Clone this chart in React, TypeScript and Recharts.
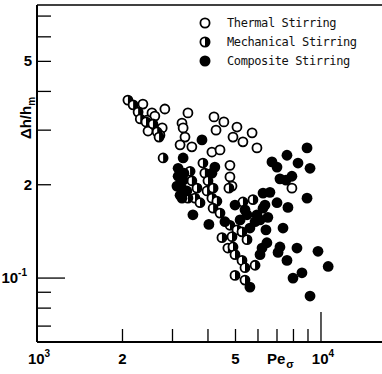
import React from 'react'
import { ScatterChart, Scatter, XAxis, YAxis, ReferenceLine, Legend, Label } from 'recharts'

// Pe_sigma (x) and Δh/h_m (y)
const thermalPe = [2360, 2540, 2600, 2820, 2460, 2760, 2710, 2440, 3400, 3240, 3270, 3320, 3190, 3510, 4200, 4550, 4270, 5060, 4900, 5310, 5720, 5950, 4130, 4410, 4780, 4780, 4860, 7900]
const thermalDh = [0.364, 0.341, 0.333, 0.351, 0.298, 0.305, 0.289, 0.323, 0.341, 0.316, 0.305, 0.285, 0.269, 0.265, 0.331, 0.319, 0.3, 0.307, 0.285, 0.275, 0.294, 0.263, 0.255, 0.259, 0.231, 0.212, 0.198, 0.195]

const mechanicalPe = [2090, 2180, 2270, 2310, 2420, 2560, 2650, 2690, 2780, 3460, 3510, 3660, 3840, 3900, 4000, 3970, 4170, 4130, 4300, 3600, 3750, 4170, 4410, 4740, 5310, 5760, 4780, 5060, 4860, 5270, 4480, 4700, 4900, 5490, 4980, 5270, 5860, 5400, 4980, 5400, 3400]
const mechanicalDh = [0.375, 0.362, 0.343, 0.326, 0.319, 0.314, 0.296, 0.285, 0.244, 0.221, 0.206, 0.195, 0.235, 0.218, 0.206, 0.191, 0.195, 0.181, 0.177, 0.181, 0.175, 0.168, 0.162, 0.195, 0.176, 0.179, 0.148, 0.143, 0.136, 0.141, 0.135, 0.125, 0.126, 0.133, 0.119, 0.114, 0.11, 0.108, 0.102, 0.0985, 0.181]

const compositePe = [3810, 3270, 3140, 3140, 3290, 3110, 3240, 3190, 3370, 4130, 4230, 3540, 4030, 3240, 4980, 6250, 5950, 5490, 5190, 5620, 6100, 6500, 6400, 7350, 7000, 7650, 8930, 6720, 7000, 7590, 8300, 8930, 9150, 7170, 7530, 7900, 6250, 6610, 6350, 6200, 6100, 6450, 7170, 7060, 7590, 8230, 9760, 10600, 8570, 7970, 9150, 5620, 4590, 5860, 5400, 3270]
const compositeDh = [0.279, 0.244, 0.226, 0.213, 0.218, 0.198, 0.194, 0.185, 0.191, 0.218, 0.228, 0.16, 0.149, 0.181, 0.172, 0.168, 0.16, 0.16, 0.154, 0.145, 0.154, 0.157, 0.143, 0.145, 0.175, 0.169, 0.181, 0.237, 0.228, 0.249, 0.235, 0.263, 0.226, 0.209, 0.207, 0.213, 0.188, 0.189, 0.172, 0.125, 0.119, 0.13, 0.126, 0.121, 0.114, 0.125, 0.122, 0.109, 0.104, 0.1, 0.0875, 0.0935, 0.152, 0.152, 0.166, 0.207]

const X_DOMAIN = [1000, 16400]
const Y_DOMAIN = [0.0622, 0.76]
const X_TICKS = [1000, 2000, 3000, 4000, 5000, 6000, 7000, 8000, 9000, 10000]
const Y_TICKS = [0.07, 0.08, 0.09, 0.1, 0.2, 0.3, 0.4, 0.5, 0.6, 0.7]
const X_MAJOR = [10000]
const Y_MAJOR = [0.1]
const X_TICK_LABELS: Record<number, string[]> = { 1000: ['10', '3'], 2000: ['2'], 5000: ['5'], 10000: ['10', '4'] }
const Y_TICK_LABELS: Record<number, string[]> = { 0.1: ['10', '-1'], 0.2: ['2'], 0.5: ['5'] }

const SERIES = [
  { name: 'Thermal Stirring', kind: 'open', pe: thermalPe, dh: thermalDh },
  { name: 'Mechanical Stirring', kind: 'half', pe: mechanicalPe, dh: mechanicalDh },
  { name: 'Composite Stirring', kind: 'full', pe: compositePe, dh: compositeDh },
]

const INK = '#000'
const R = 4.5
const tickFont = { fontFamily: "'Liberation Sans', Arial, sans-serif", fontWeight: 700, fontSize: 15, fill: INK }

function Dot({ cx, cy, kind, r = R }: { cx: number; cy: number; kind: string; r?: number }) {
  if (kind === 'full') return <circle cx={cx} cy={cy} r={r + 0.9} fill={INK} />
  return (
    <g>
      <circle cx={cx} cy={cy} r={r} fill="#fff" stroke={INK} strokeWidth={1.8} />
      {kind === 'half' && <path d={`M${cx},${cy - r} A${r},${r} 0 0 1 ${cx},${cy + r} Z`} fill={INK} />}
    </g>
  )
}

function XTick({ x, y, payload }: any) {
  const v = payload.value
  const len = X_MAJOR.includes(v) ? 30 : 13
  const lab = X_TICK_LABELS[v]
  return (
    <g>
      {v !== X_DOMAIN[0] && <line x1={x} x2={x} y1={y} y2={y - len} stroke={INK} strokeWidth={1.3} />}
      {lab && (
        <text x={x + (lab[1] ? 2 : 0)} y={y + 22} textAnchor="middle" {...tickFont}>
          {lab[0]}
          {lab[1] && <tspan dy={-7} fontSize={10}>{lab[1]}</tspan>}
        </text>
      )}
    </g>
  )
}

function YTick({ x, y, payload }: any) {
  const v = payload.value
  const len = Y_MAJOR.includes(v) ? 28 : 14
  const lab = Y_TICK_LABELS[v]
  return (
    <g>
      <line x1={x} x2={x + len} y1={y} y2={y} stroke={INK} strokeWidth={1.3} />
      {lab && (
        <text x={x - (lab[1] ? 10 : 5)} y={y + 5} textAnchor="end" {...tickFont}>
          {lab[0]}
          {lab[1] && <tspan dy={-7} fontSize={10}>{lab[1]}</tspan>}
        </text>
      )}
    </g>
  )
}

function LegendBox() {
  return (
    <div style={{ fontFamily: "'DejaVu Sans Mono', monospace", fontSize: 12, letterSpacing: -0.4, color: '#111' }}>
      {SERIES.map((s) => (
        <div key={s.name} style={{ display: 'flex', alignItems: 'center', height: 19 }}>
          <svg width={12} height={12} style={{ overflow: 'visible' }}>
            <Dot cx={6} cy={6} kind={s.kind} r={4.6} />
          </svg>
          <span style={{ marginLeft: 16, whiteSpace: 'nowrap' }}>{s.name}</span>
        </div>
      ))}
    </div>
  )
}

export default function App() {
  return (
    <div style={{ position: 'absolute', left: 0, top: 0, width: 382, height: 374, background: '#fff' }}>
      <ScatterChart width={382} height={374} margin={{ top: 5, right: 0, left: 0, bottom: 0 }}>
        <XAxis
          type="number"
          dataKey="x"
          scale="log"
          domain={X_DOMAIN}
          allowDataOverflow
          ticks={X_TICKS}
          interval={0}
          height={32}
          tickSize={0}
          tickMargin={0}
          tickLine={false}
          axisLine={{ stroke: INK, strokeWidth: 2 }}
          tick={<XTick />}
        >
          <Label
            content={() => (
              <text x={267} y={364} {...tickFont}>
                Pe
                <tspan dx={1} dy={4} fontSize={11}>σ</tspan>
              </text>
            )}
          />
        </XAxis>
        <YAxis
          type="number"
          dataKey="y"
          scale="log"
          domain={Y_DOMAIN}
          allowDataOverflow
          ticks={Y_TICKS}
          interval={0}
          width={37}
          tickSize={0}
          tickMargin={0}
          tickLine={false}
          axisLine={{ stroke: INK, strokeWidth: 2 }}
          tick={<YTick />}
        >
          <Label
            content={() => (
              <text transform="rotate(-90)" x={-118} y={31} textAnchor="middle" {...tickFont}>
                Δh/h
                <tspan dy={4} fontSize={10}>m</tspan>
              </text>
            )}
          />
        </YAxis>
        <ReferenceLine y={Y_DOMAIN[1]} stroke={INK} strokeWidth={1.5} />
        {SERIES.map((s) => (
          <Scatter
            key={s.name}
            name={s.name}
            data={s.pe.map((x, i) => ({ x, y: s.dh[i] }))}
            isAnimationActive={false}
            shape={(p: any) => <Dot cx={p.cx} cy={p.cy} kind={s.kind} />}
          />
        ))}
        <Legend
          layout="horizontal"
          verticalAlign="middle"
          align="center"
          content={() => <LegendBox />}
          wrapperStyle={{ top: 13, left: 199, width: 180 }}
        />
      </ScatterChart>
    </div>
  )
}
